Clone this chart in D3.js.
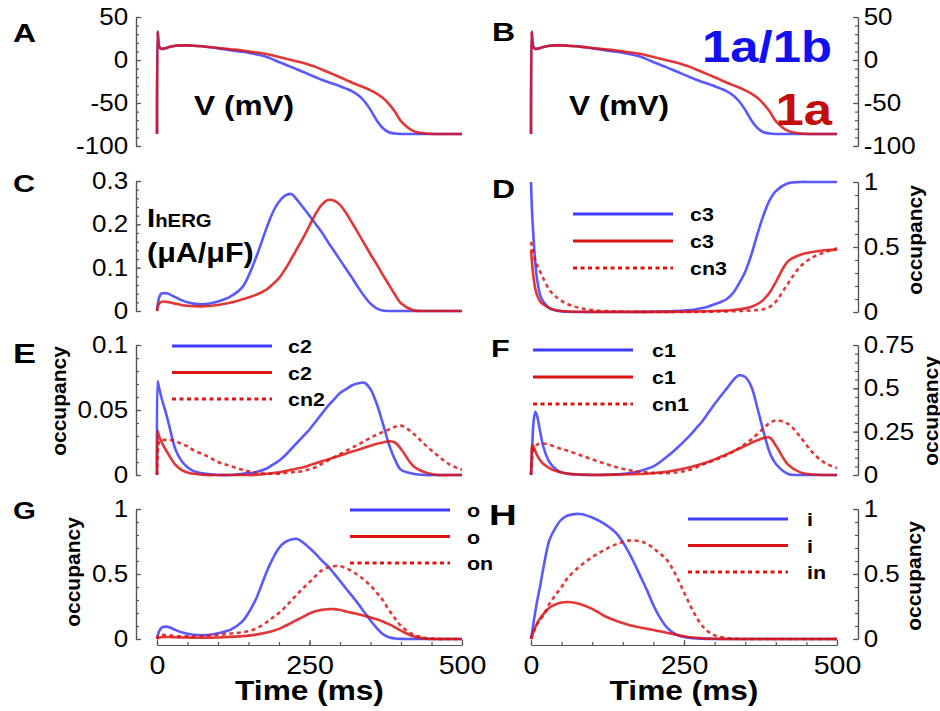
<!DOCTYPE html>
<html>
<head>
<meta charset="utf-8">
<script src="https://cdn.jsdelivr.net/npm/d3@7"></script>
<style>
  body { margin: 0; background: #fff; }
</style>
</head>
<body>
<div id="fig"></div>
<script>

// time grid (ms), shared by every trace: fine at the start, 10 ms through repolarisation
var T = [0, 1, 2, 4, 7, 10, 15, 20, 30, 40, 50, 60, 80, 100, 120, 140, 160, 180,
         190, 200, 210, 220, 230, 240, 250, 260, 270, 280, 290, 300, 310, 320, 330, 340, 350, 360, 370, 380, 390, 400,
         420, 440, 460, 480, 500];

// A / B : membrane potential (mV)
var vBlue = [-86, 33, 24, 15, 13, 13, 14, 15, 16.5, 17, 17, 16.5, 15.5, 13.5, 11.5, 9.5, 7, 3.5,
             0.7, -2.5, -5.2, -8, -11, -14, -17, -20, -23, -25.5, -28, -30.5, -33.3, -36.5, -41, -48, -58, -70, -79, -84, -85.5, -86,
             -86, -86, -86, -86, -86];
var vRed = [-86, 33, 24, 15, 13, 13, 14, 15, 16.5, 17, 17, 16.5, 15.5, 14, 12.5, 11, 9, 7,
            5.3, 3.5, 1.8, 0, -1.7, -3.5, -5.7, -8, -11, -14, -17, -20, -23.2, -26.5, -29.2, -32, -35.3, -39, -44, -51, -60, -71,
            -82.5, -85.5, -86, -86, -86];

// C : I_hERG (uA/uF)
var ihBlue = [0, 0.012, 0.022, 0.033, 0.04, 0.041, 0.041, 0.039, 0.032, 0.025, 0.02, 0.017, 0.016, 0.022, 0.033, 0.055, 0.115, 0.193,
              0.228, 0.252, 0.266, 0.27, 0.256, 0.238, 0.22, 0.201, 0.182, 0.16, 0.139, 0.118, 0.097, 0.076, 0.054, 0.034, 0.017, 0.006, 0.001, 0, 0, 0,
              0, 0, 0, 0, 0];
var ihRed = [0, 0.008, 0.013, 0.018, 0.021, 0.022, 0.021, 0.02, 0.017, 0.014, 0.012, 0.011, 0.011, 0.014, 0.019, 0.027, 0.036, 0.05,
             0.062, 0.076, 0.096, 0.12, 0.145, 0.17, 0.197, 0.224, 0.245, 0.256, 0.255, 0.245, 0.226, 0.203, 0.179, 0.155, 0.131, 0.108, 0.084, 0.061, 0.038, 0.018,
             0.002, 0, 0, 0, 0];

// D : c3 / cn3
var c3Blue = [1, 0.85, 0.74, 0.58, 0.38, 0.25, 0.13, 0.08, 0.03, 0.012, 0.005, 0.002, 0, 0, 0, 0, 0, 0.001,
              0.001, 0.002, 0.003, 0.004, 0.006, 0.008, 0.011, 0.015, 0.021, 0.03, 0.043, 0.06, 0.077, 0.1, 0.145, 0.22, 0.31, 0.44, 0.6, 0.745, 0.86, 0.93,
              0.99, 1, 1, 1, 1];
var c3Red = [0.48, 0.42, 0.36, 0.27, 0.18, 0.13, 0.08, 0.06, 0.03, 0.015, 0.008, 0.004, 0.002, 0.001, 0.001, 0.001, 0.001, 0.001,
             0.001, 0.001, 0.001, 0.001, 0.001, 0.002, 0.002, 0.003, 0.004, 0.005, 0.006, 0.008, 0.01, 0.012, 0.015, 0.02, 0.028, 0.04, 0.06, 0.095, 0.15, 0.23,
             0.39, 0.44, 0.462, 0.475, 0.48];
var cn3Red = [0.54, 0.52, 0.5, 0.46, 0.4, 0.36, 0.31, 0.26, 0.17, 0.12, 0.085, 0.06, 0.03, 0.015, 0.008, 0.004, 0.002, 0.001,
              0.001, 0.001, 0.001, 0.001, 0.001, 0.001, 0.001, 0.001, 0.001, 0.001, 0.002, 0.003, 0.004, 0.005, 0.006, 0.008, 0.01, 0.012, 0.016, 0.022, 0.04, 0.08,
              0.22, 0.35, 0.42, 0.46, 0.49];

// E : c2 / cn2
var c2Blue = [0, 0.072, 0.07, 0.066, 0.06, 0.055, 0.047, 0.038, 0.02, 0.011, 0.006, 0.003, 0.001, 0, 0, 0.001, 0.002, 0.005,
              0.008, 0.011, 0.015, 0.02, 0.025, 0.03, 0.035, 0.041, 0.047, 0.053, 0.058, 0.063, 0.066, 0.069, 0.0705, 0.071, 0.066, 0.055, 0.04, 0.024, 0.012, 0.004,
              0.001, 0, 0, 0, 0];
var c2Red = [0, 0.034, 0.032, 0.029, 0.026, 0.023, 0.019, 0.015, 0.008, 0.004, 0.002, 0.001, 0, 0, 0, 0, 0, 0.001,
             0.0015, 0.002, 0.003, 0.004, 0.005, 0.006, 0.0075, 0.009, 0.0105, 0.012, 0.0135, 0.015, 0.0165, 0.018, 0.0195, 0.021, 0.0225, 0.024, 0.025, 0.026, 0.025, 0.02,
             0.007, 0.002, 0, 0, 0];
var cn2Red = [0, 0.015, 0.022, 0.026, 0.027, 0.027, 0.027, 0.027, 0.026, 0.024, 0.022, 0.019, 0.015, 0.01, 0.007, 0.004, 0.002, 0.001,
              0.001, 0.001, 0.0015, 0.002, 0.0025, 0.003, 0.0045, 0.006, 0.0085, 0.011, 0.0135, 0.016, 0.0185, 0.021, 0.0235, 0.026, 0.0285, 0.031, 0.033, 0.035, 0.037, 0.038,
              0.032, 0.023, 0.015, 0.008, 0.004];

// F : c1 / cn1
var c1Blue = [0, 0.08, 0.16, 0.3, 0.365, 0.34, 0.25, 0.165, 0.075, 0.035, 0.015, 0.007, 0.002, 0, 0.001, 0.004, 0.01, 0.025,
              0.036, 0.05, 0.072, 0.1, 0.128, 0.16, 0.194, 0.23, 0.27, 0.31, 0.36, 0.41, 0.455, 0.5, 0.545, 0.575, 0.565, 0.51, 0.385, 0.25, 0.13, 0.065,
              0.006, 0, 0, 0, 0];
var c1Red = [0, 0.1, 0.17, 0.165, 0.14, 0.115, 0.085, 0.065, 0.04, 0.024, 0.014, 0.008, 0.003, 0.001, 0.001, 0.002, 0.004, 0.006,
             0.008, 0.01, 0.014, 0.018, 0.024, 0.03, 0.037, 0.045, 0.055, 0.065, 0.077, 0.09, 0.105, 0.12, 0.136, 0.152, 0.168, 0.185, 0.2, 0.213, 0.216, 0.17,
             0.06, 0.015, 0.003, 0, 0];
var cn1Red = [0, 0.06, 0.1, 0.14, 0.16, 0.175, 0.182, 0.182, 0.175, 0.163, 0.15, 0.14, 0.115, 0.09, 0.066, 0.045, 0.028, 0.018,
              0.015, 0.012, 0.011, 0.01, 0.012, 0.016, 0.022, 0.03, 0.043, 0.06, 0.072, 0.085, 0.1, 0.115, 0.133, 0.155, 0.18, 0.205, 0.237, 0.27, 0.3, 0.315,
              0.295, 0.22, 0.13, 0.07, 0.04];

// G : o / on
var oBlue = [0, 0.02, 0.04, 0.065, 0.085, 0.093, 0.095, 0.09, 0.07, 0.052, 0.04, 0.033, 0.03, 0.045, 0.07, 0.135, 0.285, 0.52,
             0.62, 0.7, 0.745, 0.765, 0.77, 0.74, 0.7, 0.655, 0.605, 0.56, 0.505, 0.447, 0.387, 0.33, 0.27, 0.205, 0.142, 0.085, 0.038, 0.013, 0.004, 0.001,
             0, 0, 0, 0, 0];
var oRed = [0, 0.005, 0.008, 0.012, 0.014, 0.015, 0.015, 0.015, 0.013, 0.012, 0.011, 0.01, 0.01, 0.012, 0.016, 0.022, 0.032, 0.05,
            0.062, 0.078, 0.1, 0.123, 0.148, 0.172, 0.196, 0.213, 0.224, 0.229, 0.23, 0.223, 0.212, 0.201, 0.19, 0.178, 0.166, 0.152, 0.135, 0.114, 0.09, 0.064,
            0.022, 0.003, 0, 0, 0];
var onRed = [0, 0.015, 0.025, 0.03, 0.032, 0.032, 0.03, 0.028, 0.024, 0.021, 0.02, 0.02, 0.024, 0.032, 0.042, 0.052, 0.075, 0.13,
             0.165, 0.2, 0.245, 0.295, 0.345, 0.392, 0.437, 0.485, 0.528, 0.55, 0.56, 0.56, 0.545, 0.52, 0.49, 0.452, 0.41, 0.357, 0.3, 0.225, 0.16, 0.1,
             0.035, 0.008, 0, 0, 0];

// H : i / in
var iBlue = [0, 0.03, 0.06, 0.12, 0.21, 0.29, 0.41, 0.54, 0.76, 0.855, 0.92, 0.95, 0.962, 0.935, 0.885, 0.81, 0.665, 0.47,
             0.37, 0.26, 0.17, 0.1, 0.055, 0.028, 0.015, 0.008, 0.004, 0.002, 0.001, 0, 0, 0, 0, 0, 0, 0, 0, 0, 0, 0,
             0, 0, 0, 0, 0];
var iRed = [0, 0.015, 0.03, 0.055, 0.09, 0.12, 0.16, 0.19, 0.24, 0.265, 0.28, 0.285, 0.27, 0.232, 0.177, 0.138, 0.108, 0.087,
            0.078, 0.069, 0.06, 0.05, 0.04, 0.03, 0.021, 0.014, 0.009, 0.005, 0.003, 0.002, 0.001, 0, 0, 0, 0, 0, 0, 0, 0, 0,
            0, 0, 0, 0, 0];
var inRed = [0, 0.01, 0.025, 0.05, 0.085, 0.115, 0.15, 0.18, 0.27, 0.34, 0.4, 0.47, 0.56, 0.63, 0.685, 0.73, 0.757, 0.75,
             0.73, 0.7, 0.66, 0.62, 0.55, 0.46, 0.36, 0.26, 0.17, 0.1, 0.055, 0.028, 0.015, 0.007, 0.003, 0.001, 0, 0, 0, 0, 0, 0,
             0, 0, 0, 0, 0];

// ticks
var xMajor = [0, 250, 500];
var vTicks = [50, 0, -50, -100];
var ihTicks = [0, 0.1, 0.2, 0.3];
var c3Ticks = [0, 0.5, 1];
var c2Ticks = [0, 0.05, 0.1];
var c1Ticks = [0, 0.25, 0.5, 0.75];
var occTicks = [0, 0.5, 1];

var width = 940,
    height = 711,
    SX = 1.13; // the figure is a little stretched sideways

var BLUE = "#3c3cff", RED = "#dc1414", AXIS = "#555";

var svg = d3.select("#fig")
    .append("svg")
    .attr("width", width)
    .attr("height", height)
    .style("font-family", "'Liberation Sans', Arial, Helvetica, sans-serif");

var xL = d3.scaleLinear().domain([0, 500]).range([157, 462]);
var xR = d3.scaleLinear().domain([0, 500]).range([531, 837]);

function label(x, y, str, size, opts) {
    opts = opts || {};
    return svg.append("text")
        .attr("transform", "translate(" + x + "," + y + ") scale(" + (opts.sx || SX) + ",1)")
        .attr("text-anchor", opts.anchor || "start")
        .attr("font-size", size)
        .attr("font-weight", opts.weight || "bold")
        .attr("fill", opts.fill || "#000")
        .text(str);
}

function vlabel(x, cy, str) {
    svg.append("text")
        .attr("transform", "translate(" + x + "," + cy + ") rotate(-90)")
        .attr("text-anchor", "middle")
        .attr("font-size", 21)
        .attr("font-weight", "bold")
        .text(str);
}

function panel(p) {
    var y = d3.scaleLinear().domain(p.domain).range(p.range);
    var left = p.side == "left";
    var ax = left ? 136 : 858;

    var minor = d3.range(p.domain[0], p.domain[1] + p.step / 2, p.step);
    var mk = left ? d3.axisLeft : d3.axisRight;

    var gMinor = svg.append("g").attr("transform", "translate(" + ax + ",0)")
        .call(mk(y).tickValues(minor).tickSize(-3).tickSizeOuter(0).tickFormat(""));
    var gMajor = svg.append("g").attr("transform", "translate(" + ax + ",0)")
        .call(mk(y).tickValues(p.ticks).tickSize(-5).tickSizeOuter(0).tickPadding(left ? 7 : 5)
              .tickFormat(function(d) { return String(d); }));

    [gMinor, gMajor].forEach(function(g) {
        g.select(".domain").attr("stroke", AXIS).attr("stroke-width", 1.2);
        g.selectAll(".tick line").attr("stroke", AXIS).attr("stroke-width", 1.2);
    });
    gMajor.selectAll("text")
        .attr("font-size", 23)
        .attr("fill", "#000")
        .attr("font-family", "'Liberation Sans', Arial, sans-serif")
        .attr("transform", "scale(" + SX + ",1)");

    var line = d3.line()
        .x(function(d, i) { return p.x(T[i]); })
        .y(function(d) { return y(d); })
        .curve(d3.curveCatmullRom.alpha(0.5));

    p.series.forEach(function(s) {
        svg.append("path")
            .datum(s.v)
            .attr("d", line)
            .attr("fill", "none")
            .attr("stroke", s.c)
            .attr("stroke-opacity", 0.85)
            .attr("stroke-width", 2.6)
            .attr("stroke-dasharray", s.dash ? "4,3.5" : null);
    });

    // legend
    if (p.legend) {
        var lg = p.legend;
        p.series.forEach(function(s, i) {
            var yy = lg.y + i * lg.dy;
            svg.append("line")
                .attr("x1", lg.x).attr("x2", lg.x + 100)
                .attr("y1", yy).attr("y2", yy)
                .attr("stroke", s.c)
                .attr("stroke-width", 3)
                .attr("stroke-dasharray", s.dash ? "4,3.5" : null);
            label(lg.tx, yy + 7, s.name, 19);
        });
    }

    // time axis on the bottom row
    if (p.timeAxis) {
        var xa = svg.append("g").attr("transform", "translate(0,645)");
        xa.call(d3.axisBottom(p.x).tickValues(d3.range(0, 501, 50)).tickSize(-3).tickSizeOuter(0).tickFormat(""));
        var xb = svg.append("g").attr("transform", "translate(0,645)");
        xb.call(d3.axisBottom(p.x).tickValues(xMajor).tickSize(-5).tickSizeOuter(0).tickFormat(function(d) { return String(d); }));
        [xa, xb].forEach(function(g) {
            g.select(".domain").attr("stroke", AXIS).attr("stroke-width", 1.2);
            g.selectAll(".tick line").attr("stroke", AXIS).attr("stroke-width", 1.2);
        });
        xb.selectAll("text")
            .attr("y", 0).attr("dy", 0)
            .attr("font-size", 26)
            .attr("fill", "#000")
            .attr("font-family", "'Liberation Sans', Arial, sans-serif")
            .attr("transform", "translate(0,29) scale(1.1,1)");
        label((p.x.range()[0] + p.x.range()[1]) / 2, 700, "Time (ms)", 28, {anchor: "middle"});
    }
}

/* A */
panel({x: xL, side: "left", domain: [-100, 50], range: [146, 17], ticks: vTicks, step: 10,
       series: [{v: vBlue, c: BLUE}, {v: vRed, c: RED}]});
/* B */
panel({x: xR, side: "right", domain: [-100, 50], range: [146, 17], ticks: vTicks, step: 10,
       series: [{v: vBlue, c: BLUE}, {v: vRed, c: RED}]});
/* C */
panel({x: xL, side: "left", domain: [0, 0.3], range: [311, 181], ticks: ihTicks, step: 0.02,
       series: [{v: ihBlue, c: BLUE}, {v: ihRed, c: RED}]});
/* D */
panel({x: xR, side: "right", domain: [0, 1], range: [312, 182], ticks: c3Ticks, step: 0.1,
       series: [{v: c3Blue, c: BLUE, name: "c3"}, {v: c3Red, c: RED, name: "c3"}, {v: cn3Red, c: RED, dash: true, name: "cn3"}],
       legend: {x: 573, y: 214, dy: 27, tx: 690}});
/* E */
panel({x: xL, side: "left", domain: [0, 0.1], range: [475, 345], ticks: c2Ticks, step: 0.01,
       series: [{v: c2Blue, c: BLUE, name: "c2"}, {v: c2Red, c: RED, name: "c2"}, {v: cn2Red, c: RED, dash: true, name: "cn2"}],
       legend: {x: 172, y: 346, dy: 26.5, tx: 288}});
/* F */
panel({x: xR, side: "right", domain: [0, 0.75], range: [475, 345], ticks: c1Ticks, step: 0.05,
       series: [{v: c1Blue, c: BLUE, name: "c1"}, {v: c1Red, c: RED, name: "c1"}, {v: cn1Red, c: RED, dash: true, name: "cn1"}],
       legend: {x: 533, y: 350, dy: 27, tx: 652}});
/* G */
panel({x: xL, side: "left", domain: [0, 1], range: [639, 509], ticks: occTicks, step: 0.1, timeAxis: true,
       series: [{v: oBlue, c: BLUE, name: "o"}, {v: oRed, c: RED, name: "o"}, {v: onRed, c: RED, dash: true, name: "on"}],
       legend: {x: 350, y: 510, dy: 26.5, tx: 467}});
/* H */
panel({x: xR, side: "right", domain: [0, 1], range: [639, 509], ticks: occTicks, step: 0.1, timeAxis: true,
       series: [{v: iBlue, c: BLUE, name: "i"}, {v: iRed, c: RED, name: "i"}, {v: inRed, c: RED, dash: true, name: "in"}],
       legend: {x: 688, y: 519, dy: 26.5, tx: 807}});

// panel letters
var big = {sx: 1.28};
label(13, 42, "A", 25, big);
label(492, 41, "B", 25, big);
label(13, 192, "C", 24, big);
label(492, 198, "D", 25, big);
label(13, 363, "E", 27, big);
label(491, 357, "F", 24, big);
label(13, 519, "G", 23, big);
label(489, 525, "H", 30, big);

// axis titles inside the plots
label(194, 115, "V (mV)", 28);
label(569, 115, "V (mV)", 28);

var ih = svg.append("text")
    .attr("transform", "translate(147,227) scale(" + SX + ",1)")
    .attr("font-weight", "bold");
ih.append("tspan").attr("font-size", 26).text("I");
ih.append("tspan").attr("font-size", 18).text("hERG");
label(147, 262, "(\u03bcA/\u03bcF)", 27);

vlabel(922, 240, "occupancy");
vlabel(66, 401, "occupancy");
vlabel(938, 411, "occupancy");
vlabel(80, 572, "occupancy");
vlabel(921, 576, "occupancy");

// variant key
label(832, 62, "1a/1b", 45, {anchor: "end", fill: "#1010f0"});
label(832, 125, "1a", 45, {anchor: "end", fill: "#c40d0d"});

</script>
</body>
</html>
